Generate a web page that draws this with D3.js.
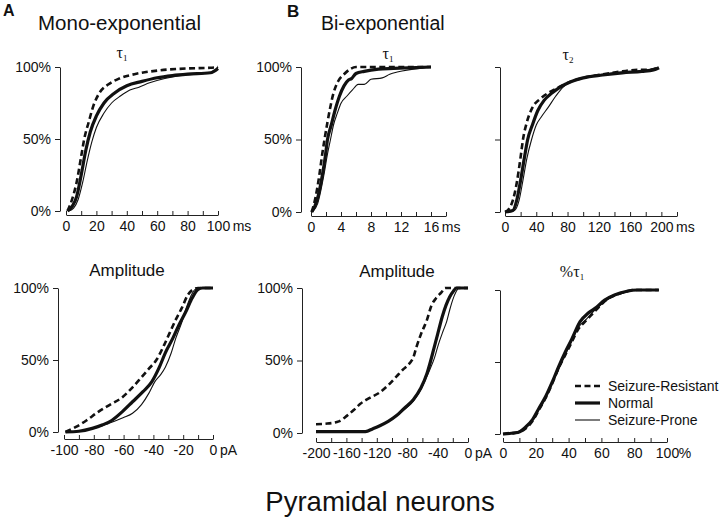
<!DOCTYPE html>
<html><head><meta charset="utf-8">
<script src="https://cdn.jsdelivr.net/npm/d3@7"></script>
<style>
body{margin:0;background:#fff}
svg{display:block}
text{font-family:"Liberation Sans",Arial,sans-serif;fill:#111}
</style></head><body>
<svg id="chart" width="720" height="520"></svg>
<script>
// ---------- DATA ----------
const seriesNames = ["Seizure-Resistant", "Normal", "Seizure-Prone"];
const yTickValues = [0, 50, 100];

// A: mono-exponential tau1 (ms, cumulative %)
const monoTau1Resistant = [[1,0],[4,8],[7,20],[10,38],[12,50],[15,62],[18,73],[22,82],[28,88],[35,92],[45,95],[60,97.5],[80,99],[95,99.5],[100,100]];
const monoTau1Normal = [[1,0],[4,3],[7,10],[10,25],[13,42],[16,55],[20,66],[25,75],[32,82],[40,87],[50,90],[60,92.5],[70,94],[80,95],[95,96],[100,99]];
const monoTau1Prone = [[2,0],[5,2],[8,8],[11,20],[14,35],[17,48],[20,58],[25,68],[30,75],[36,80],[42,84],[48,86],[55,89],[65,92],[75,94],[85,95],[95,96],[100,100]];
const monoTau1Labels = [0,20,40,60,80,100];

// A: mono-exponential amplitude (pA)
const monoAmpResistant = [[-99,0],[-92,3.5],[-85,8],[-77,14],[-69,19],[-61,24],[-54,31],[-48,38],[-43,44],[-38,50],[-33,60],[-29,69],[-25,78],[-21,86],[-17,95],[-14,98.5],[-10,100],[0,100]];
const monoAmpNormal = [[-99,0],[-90,0.5],[-81,2.5],[-74,5],[-68,8],[-61,14],[-54,21],[-47,28],[-41,35],[-36,45],[-32,55],[-27,65],[-23,74],[-18,84],[-14,93],[-10,99],[-7,100],[0,100]];
const monoAmpProne = [[-99,0],[-90,0.5],[-80,2.5],[-70,6],[-60,10],[-54,13],[-48,19],[-43,27],[-39,35],[-35,40],[-32,45],[-28,55],[-25,65],[-21,76],[-18,86],[-15,94],[-12,99],[-8,100],[0,100]];
const monoAmpLabels = [-100,-80,-60,-40,-20,0];

// B: bi-exponential tau1 (ms)
const biTau1Resistant = [[0.1,0],[0.6,10],[1.1,25],[1.5,40],[1.8,50],[2.2,62],[2.6,73],[3.0,82],[3.6,90],[4.4,95],[5.2,98.5],[6,100],[16,100]];
const biTau1Normal = [[0.1,0],[0.8,8],[1.5,25],[1.9,38],[2.2,50],[2.7,60],[3.2,70],[3.8,80],[4.4,87],[5.0,91],[5.4,92],[6.0,95.5],[7.1,97],[9,98.5],[11,99],[16,100]];
const biTau1Prone = [[0.2,0],[0.9,6],[1.7,25],[2.2,40],[2.6,50],[3.0,60],[3.5,68],[4.0,75],[4.8,80],[5.5,84],[6.3,88],[7.1,88],[8,91.5],[9.5,92.5],[10.5,95],[11.5,96.5],[13,98],[14.5,99],[16,100]];
const biTau1Labels = [0,4,8,12,16];

// B: bi-exponential tau2 (ms)
const biTau2Resistant = [[0,0],[5,2],[10,8],[15,20],[20,38],[23,50],[28,62],[35,72],[45,78],[55,82],[65,85],[80,89],[100,92.5],[125,95],[150,97],[170,98],[185,98],[195,99.5]];
const biTau2Normal = [[0,0],[10,1],[15,8],[20,22],[25,38],[29,50],[35,60],[42,70],[50,77],[60,82],[70,86],[85,90],[100,92.5],[125,94.5],[150,96],[175,97],[190,98],[197,99.5]];
const biTau2Prone = [[2,0],[12,1],[18,8],[23,22],[28,37],[34,50],[40,60],[47,66],[55,72],[65,80],[74,86],[85,90],[100,92.5],[125,95],[150,96.5],[175,97.5],[195,99]];
const biTau2Labels = [0,40,80,120,160,200];

// B: bi-exponential amplitude (pA)
const biAmpResistant = [[-200,6],[-185,6.5],[-170,8],[-159,12],[-150,16],[-142,20],[-130,24],[-116,28],[-105,33],[-94,39],[-85,44],[-77,48],[-72,52],[-68,59],[-62,68],[-54,78],[-48,88],[-42,93],[-35,97],[-30,100],[0,100]];
const biAmpNormal = [[-200,1],[-135,1],[-125,3],[-116,5],[-105,8],[-94,12],[-84,17],[-72,23],[-62,31],[-54,41],[-49,50],[-45,58],[-40,68],[-34,80],[-29,88],[-24,94],[-19,98],[-15,100],[0,100]];
const biAmpProne = [[-200,1],[-135,1],[-125,3],[-116,5],[-105,8],[-94,12],[-84,16],[-72,22],[-62,30],[-55,38],[-50,44],[-44,52],[-39,61],[-33,70],[-28,77],[-24,85],[-20,92],[-16,97],[-12,100],[0,100]];
const biAmpLabels = [-200,-160,-120,-80,-40,0];

// B: %tau1
const biPctResistant = [[0,0],[5,0.5],[9,1],[14,4],[18,9],[22,17],[26,25],[30,35],[34,46],[38,55],[42,64],[46,73],[50,78],[55,84],[60,90],[64,94],[70,97],[80,100],[95,100]];
const biPctNormal = [[0,0],[5,0.5],[9,1],[14,5],[18,10],[22,18],[26,26],[30,36],[34,47],[38,57],[42,66],[47,78],[52,84],[57,88],[62,93],[68,96.5],[75,99],[82,100],[95,100]];
const biPctProne = [[0,0],[5,0.5],[9,1.5],[14,5],[18,10],[22,17],[26,25],[30,35],[34,45],[38,55],[42,65],[46,74],[51,80],[56,86],[62,92],[68,96],[75,98.5],[82,100],[95,100]];
const biPctLabels = [0,20,40,60,80,100];

// ---------- STYLES ----------
const styles = [
  {width:2.6, dash:"6,3.5"},
  {width:3.2, dash:null},
  {width:1.1, dash:null}
];
const tickFont = "14px";

const panels = [
  {sub:"τ", subIdx:"1", subX:122, subY:58, xDom:[0,100], xRng:[66,218], yRng:[211,67], axY:215, axX:60, step:10, labels:monoTau1Labels, unit:"ms", yLab:true,
   data:[monoTau1Resistant, monoTau1Normal, monoTau1Prone]},
  {sub:"τ", subIdx:"1", subX:388, subY:59, xDom:[0,18], xRng:[311,446], yRng:[212,67], axY:216, axX:301, step:2, labels:biTau1Labels, unit:"ms", yLab:true,
   data:[biTau1Resistant, biTau1Normal, biTau1Prone]},
  {sub:"τ", subIdx:"2", subX:568, subY:60, xDom:[0,220], xRng:[505,677], yRng:[212,67], axY:216, axX:500, step:20, labels:biTau2Labels, unit:"ms", yLab:false,
   data:[biTau2Resistant, biTau2Normal, biTau2Prone]},
  {title:"Amplitude", subX:127, subY:276, xDom:[-100,0], xRng:[64,213], yRng:[432,288], axY:439, axX:58, step:10, labels:monoAmpLabels, unit:"pA", yLab:true,
   data:[monoAmpResistant, monoAmpNormal, monoAmpProne]},
  {title:"Amplitude", subX:397, subY:277, xDom:[-200,0], xRng:[316,468], yRng:[433,288], axY:442, axX:302, step:20, labels:biAmpLabels, unit:"pA", yLab:true,
   data:[biAmpResistant, biAmpNormal, biAmpProne]},
  {sub:"%τ", subIdx:"1", subX:572, subY:277, xDom:[0,100], xRng:[503,667], yRng:[434,290], axY:442, axX:500, step:10, labels:biPctLabels, unit:"%", unitGap:0, yLab:false,
   data:[biPctResistant, biPctNormal, biPctProne]}
];

const svg = d3.select("#chart");

panels.forEach(p => {
  const g = svg.append("g");
  const x = d3.scaleLinear().domain(p.xDom).range(p.xRng);
  const y = d3.scaleLinear().domain([0,100]).range(p.yRng);

  // x axis
  const ticks = d3.range(p.xDom[0], p.xDom[1] + p.step/2, p.step);
  const xAxis = d3.axisBottom(x).tickValues(ticks)
    .tickSizeInner(-4).tickSizeOuter(0).tickPadding(6)
    .tickFormat(d => p.labels.some(l => Math.abs(l - d) < 1e-9) ? String(d) : "");
  const xg = g.append("g").attr("transform", `translate(0,${p.axY})`).call(xAxis);
  xg.selectAll("text").style("font-size",tickFont).style("font-family","Liberation Sans, Arial, sans-serif").attr("fill","#111");
  xg.selectAll("path,line").attr("stroke","#222").attr("stroke-width",1);

  // unit label after last labelled tick
  const last = p.labels[p.labels.length-1];
  let lastText = null;
  xg.selectAll(".tick").each(function(d){ if (Math.abs(d-last)<1e-9) lastText = d3.select(this).select("text").node(); });
  const w = lastText.getComputedTextLength();
  g.append("text").attr("x", x(last) + w/2 + (p.unitGap===undefined?3:p.unitGap))
    .attr("y", p.axY + 6).attr("dy","0.71em")
    .style("font-size",tickFont).text(p.unit);

  // y axis
  const yAxis = d3.axisLeft(y).tickValues(yTickValues).tickSizeInner(5).tickSizeOuter(0).tickPadding(4)
    .tickFormat(d => p.yLab ? d + "%" : "");
  const yg = g.append("g").attr("transform", `translate(${p.axX},0)`).call(yAxis);
  yg.selectAll("text").style("font-size",tickFont).style("font-family","Liberation Sans, Arial, sans-serif").attr("fill","#111");
  yg.selectAll("path,line").attr("stroke","#222").attr("stroke-width",1);

  // subtitle
  if (p.title) {
    g.append("text").attr("x", p.subX).attr("y", p.subY).attr("text-anchor","middle")
      .style("font-size","17px").text(p.title);
  } else {
    const t = g.append("text").attr("x", p.subX).attr("y", p.subY).attr("text-anchor","middle")
      .style("font-family","Liberation Serif, Times New Roman, serif").style("font-size","16px");
    t.append("tspan").text(p.sub);
    t.append("tspan").attr("dy", 3).style("font-size","9px").text(p.subIdx);
  }

  // curves
  const line = d3.line().x(d => x(d[0])).y(d => y(d[1])).curve(d3.curveMonotoneX);
  p.data.forEach((s, i) => {
    g.append("path").datum(s).attr("d", line)
      .attr("fill","none").attr("stroke","#111")
      .attr("stroke-width", styles[i].width)
      .attr("stroke-dasharray", styles[i].dash)
      .attr("stroke-linejoin","round");
  });
});

// legend
const legendRows = [386, 403, 420];
const leg = svg.append("g");
seriesNames.forEach((n, i) => {
  leg.append("line").attr("x1",575).attr("x2",600).attr("y1",legendRows[i]).attr("y2",legendRows[i])
    .attr("stroke","#111").attr("stroke-width",styles[i].width).attr("stroke-dasharray",styles[i].dash);
  leg.append("text").attr("x",608).attr("y",legendRows[i]+5).style("font-size","14px").text(n);
});

// panel labels and titles
svg.append("text").attr("x",3).attr("y",16).style("font-size","16px").style("font-weight","bold").text("A");
svg.append("text").attr("x",38).attr("y",30).style("font-size","20.5px").text("Mono-exponential");
svg.append("text").attr("x",287).attr("y",17).style("font-size","17px").style("font-weight","bold").text("B");
svg.append("text").attr("x",321).attr("y",30).style("font-size","19.5px").text("Bi-exponential");
svg.append("text").attr("x",380).attr("y",511).attr("text-anchor","middle").style("font-size","27.5px").text("Pyramidal neurons");
</script>
</body></html>
